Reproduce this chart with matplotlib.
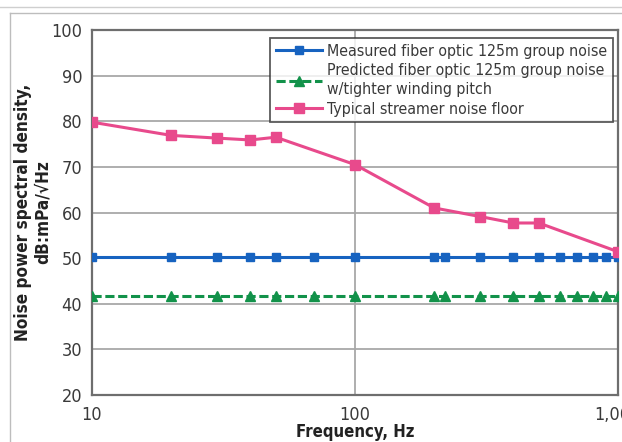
import numpy as np
import matplotlib.pyplot as plt
from matplotlib.lines import Line2D

plt.rcParams['font.family'] = ['DejaVu Sans']
plt.rcParams['font.stretch'] = 'condensed'

# frecuencias de los puntos medidos / predichos
freq = [10, 20, 30, 40, 50, 70, 100, 200, 220, 300, 400, 500, 600, 700, 800, 900, 1000]
measured = [50.3] * len(freq)
predicted = [41.7] * len(freq)

# piso de ruido tipico del streamer
freq_floor = [10, 20, 30, 40, 50, 100, 200, 300, 400, 500, 1000]
floor = [79.8, 76.9, 76.3, 75.9, 76.5, 70.5, 61.0, 59.1, 57.7, 57.7, 51.4]

labels = ['Measured fiber optic 125m group noise',
          'Predicted fiber optic 125m group noise\nw/tighter winding pitch',
          'Typical streamer noise floor']

blue = '#1763c0'
green = '#12924a'
pink = '#e84a8c'
txt = '#3a3a3a'

fig = plt.figure(figsize=(6.22, 4.42), dpi=100)
ax = fig.add_axes([92 / 622, 1 - 395 / 442, 526 / 622, 365 / 442])

ax.plot(freq, measured, color=blue, lw=2.2, marker='s', ms=6, label=labels[0], zorder=4)
ax.plot(freq, predicted, color=green, lw=2.2, ls=(0, (3, 1.2)), marker='^', ms=6.5,
        label=labels[1], zorder=4)
ax.plot(freq_floor, floor, color=pink, lw=2.2, marker='s', ms=7.5, label=labels[2], zorder=5)

ax.set_xscale('log')
ax.set_xlim(10, 1000)
ax.set_ylim(20, 100)
ax.set_yticks(np.arange(20, 101, 10))
ax.set_xticks([10, 100, 1000])
ax.set_xticklabels(['10', '100', '1,000'])
ax.minorticks_off()
ax.grid(True, color='#a8a8a8', lw=1.3)
ax.set_axisbelow(True)
for s in ax.spines.values():
    s.set_color('#6e6e6e')
    s.set_linewidth(1.6)
ax.tick_params(length=0, labelsize=13, labelcolor=txt)
ax.tick_params(axis='y', pad=7)
ax.tick_params(axis='x', pad=8)
for lab in ax.get_xticklabels() + ax.get_yticklabels():
    lab.set_clip_on(False)

ax.set_xlabel('Frequency, Hz', fontsize=12, fontweight='bold', color='#222222', labelpad=-1)
ax.set_ylabel('Noise power spectral density,\ndB:mPa/√Hz',
              fontsize=12.3, fontweight='bold', color='#222222', labelpad=0, linespacing=1.1)

leg = ax.legend(loc='upper right', bbox_to_anchor=(0.99, 0.978), fontsize=11.4,
                frameon=True, fancybox=False, borderpad=0.35, labelspacing=0.3,
                handlelength=2.9, handletextpad=0.35, borderaxespad=0)
leg.get_frame().set_edgecolor('#333333')
leg.get_frame().set_linewidth(1.3)
for t in leg.get_texts():
    t.set_color(txt)
    t.set_linespacing(1.3)

# marco exterior
fig.add_artist(Line2D([0, 1], [1 - 7 / 442, 1 - 7 / 442], color='#cfcfcf', lw=1))
fig.add_artist(Line2D([10 / 622, 1], [1 - 13 / 442, 1 - 13 / 442], color='#bdbdbd', lw=1))
fig.add_artist(Line2D([10 / 622, 10 / 622], [0, 1 - 13 / 442], color='#bdbdbd', lw=1))

fig.savefig('out.png', dpi=100)
